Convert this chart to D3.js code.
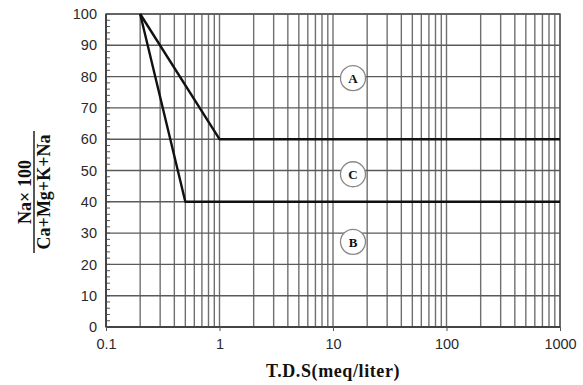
<!DOCTYPE html>
<html lang="en">
<head>
<meta charset="UTF-8">
<title>Na% vs TDS</title>
<script src="https://d3js.org/d3.v7.min.js"></script>
<style>
  body { margin: 0; background: #fff; }
  .tick text { font-family: "Liberation Sans", Arial, sans-serif; font-size: 14.5px; fill: #2a2a2a; }
  .ttl { font-family: "Liberation Serif", "Times New Roman", serif; font-weight: bold; fill: #111; }
</style>
</head>
<body>
<script>
  const width = 583, height = 385;
  const margin = {top: 14, right: 23, bottom: 58, left: 106};

  // data
  const xTicks = [0.1, 1, 10, 100, 1000];
  const yTicks = [0, 10, 20, 30, 40, 50, 60, 70, 80, 90, 100];
  const lineA = [[0.2, 100], [1, 60], [1000, 60]];   // upper boundary
  const lineB = [[0.2, 100], [0.5, 40], [1000, 40]]; // lower boundary
  const zones = [
    {label: "A", x: 15, y: 79.5},
    {label: "C", x: 15, y: 48.8},
    {label: "B", x: 15, y: 27.2}
  ];

  const svg = d3.select("body").append("svg")
    .attr("width", width)
    .attr("height", height);

  const x = d3.scaleLog().domain([0.1, 1000]).range([margin.left, width - margin.right]);
  const y = d3.scaleLinear().domain([0, 100]).range([height - margin.bottom, margin.top]);

  // vertical grid at 1..9 of each decade
  const minorX = [];
  for (let d = 0.1; d < 1000; d *= 10) {
    for (let k = 2; k <= 9; k++) minorX.push(d * k);
  }
  svg.append("g").selectAll("line")
    .data(minorX.concat(xTicks))
    .enter().append("line")
    .attr("x1", d => x(d)).attr("x2", d => x(d))
    .attr("y1", y(0)).attr("y2", y(100))
    .attr("stroke", "#707070").attr("stroke-width", 1.4);

  svg.append("g").selectAll("line")
    .data(yTicks)
    .enter().append("line")
    .attr("x1", x(0.1)).attr("x2", x(1000))
    .attr("y1", d => y(d)).attr("y2", d => y(d))
    .attr("stroke", "#5a5a5a").attr("stroke-width", 1.4);

  // minor y ticks (inside)
  svg.append("g").selectAll("line")
    .data(d3.range(0, 101, 2))
    .enter().append("line")
    .attr("x1", x(0.1)).attr("x2", x(0.1) + 4)
    .attr("y1", d => y(d)).attr("y2", d => y(d))
    .attr("stroke", "#555").attr("stroke-width", 1);

  // frame
  svg.append("rect")
    .attr("x", x(0.1)).attr("y", y(100))
    .attr("width", x(1000) - x(0.1)).attr("height", y(0) - y(100))
    .attr("fill", "none").attr("stroke", "#5a5a5a").attr("stroke-width", 1.4);
  svg.append("line")
    .attr("x1", x(0.1)).attr("x2", x(0.1)).attr("y1", y(0)).attr("y2", y(100))
    .attr("stroke", "#444").attr("stroke-width", 2);
  svg.append("line")
    .attr("x1", x(0.1)).attr("x2", x(1000)).attr("y1", y(0)).attr("y2", y(0))
    .attr("stroke", "#444").attr("stroke-width", 2);

  // axes
  const xAxis = d3.axisBottom(x).tickValues(xTicks).tickFormat(d3.format("")).tickSize(4).tickPadding(8);
  svg.append("g").attr("transform", `translate(0,${y(0)})`).call(xAxis)
    .call(g => g.select(".domain").remove())
    .call(g => g.selectAll(".tick line").attr("stroke", "#555"));

  const yAxis = d3.axisLeft(y).tickValues(yTicks).tickSize(0).tickPadding(9);
  svg.append("g").attr("transform", `translate(${x(0.1)},0)`).call(yAxis)
    .call(g => g.select(".domain").remove());

  // boundary lines
  const line = d3.line().x(d => x(d[0])).y(d => y(d[1]));
  [lineA, lineB].forEach(l => {
    svg.append("path").datum(l)
      .attr("d", line)
      .attr("fill", "none").attr("stroke", "#111").attr("stroke-width", 2.4)
      .attr("stroke-linejoin", "round");
  });

  // zone labels
  const z = svg.append("g").selectAll("g").data(zones).enter().append("g")
    .attr("transform", d => `translate(${x(d.x)},${y(d.y)})`);
  z.append("circle").attr("r", 12.5).attr("fill", "#fff").attr("stroke", "#888").attr("stroke-width", 1.3);
  z.append("text").attr("class", "ttl").attr("text-anchor", "middle").attr("dy", "0.36em")
    .attr("font-size", 13).text(d => d.label);

  // x title
  svg.append("text").attr("class", "ttl")
    .attr("x", 333).attr("y", 377)
    .attr("text-anchor", "middle").attr("font-size", 18).attr("letter-spacing", 0.6)
    .text("T.D.S(meq/liter)");

  // y title as fraction
  const yc = 192;
  const yt = svg.append("g").attr("transform", `translate(0,${yc}) rotate(-90)`);
  yt.append("text").attr("class", "ttl").attr("x", 0).attr("y", 31)
    .attr("text-anchor", "middle").attr("font-size", 18).text("Na\u00d7 100");
  yt.append("line").attr("x1", -61).attr("x2", 61).attr("y1", 34).attr("y2", 34)
    .attr("stroke", "#111").attr("stroke-width", 1.4);
  yt.append("text").attr("class", "ttl").attr("x", 0).attr("y", 50)
    .attr("text-anchor", "middle").attr("font-size", 18).text("Ca+Mg+K+Na");
</script>
</body>
</html>
